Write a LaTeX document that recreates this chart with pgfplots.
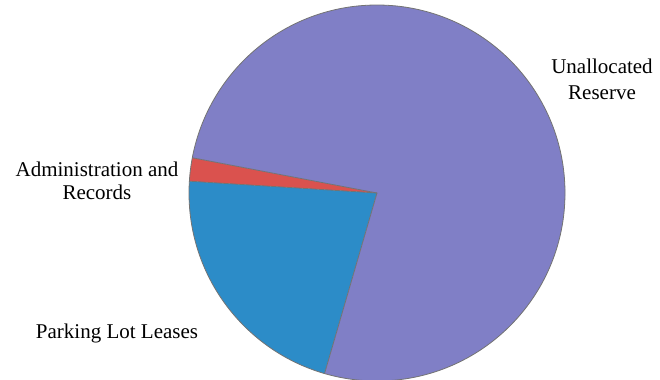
\documentclass[border=0pt]{standalone}
\usepackage{pgfplots}
\usepackage{pgfplotstable}
\pgfplotsset{compat=1.18}
\usepackage{fontspec}
\setmainfont{Liberation Serif}
\definecolor{cAdmin}{RGB}{218,82,78}
\definecolor{cPark}{RGB}{44,140,200}
\definecolor{cRes}{RGB}{128,127,198}
\pgfplotstableread{
label pct
Admin 2.0
Parking 21.5
Reserve 76.5
}\piedata
\begin{document}
\begin{tikzpicture}
\pgfplotstablegetelem{0}{pct}\of\piedata \let\pA\pgfplotsretval
\pgfplotstablegetelem{1}{pct}\of\piedata \let\pB\pgfplotsretval
\pgfplotstablegetelem{2}{pct}\of\piedata \let\pC\pgfplotsretval
\pgfmathsetmacro{\aA}{169.2}
\pgfmathsetmacro{\aB}{\aA+3.6*\pA}
\pgfmathsetmacro{\aC}{\aB+3.6*\pB}
\pgfmathsetmacro{\aD}{\aC+3.6*\pC}
\begin{axis}[
  scale only axis, width=330pt, height=190pt,
  xmin=0, xmax=660, ymin=0, ymax=380,
  hide axis, clip=true,
]
\path (axis cs:0,0) rectangle (axis cs:660,380);
\fill[cAdmin] (axis cs:377,187) -- ++(\aA:94pt) arc[start angle=\aA, end angle=\aB, radius=94pt] -- cycle;
\fill[cPark] (axis cs:377,187) -- ++(\aB:94pt) arc[start angle=\aB, end angle=\aC, radius=94pt] -- cycle;
\fill[cRes] (axis cs:377,187) -- ++(\aC:94pt) arc[start angle=\aC, end angle=\aD, radius=94pt] -- cycle;
\draw[black!55, line width=0.4pt] (axis cs:377,187) -- ++(\aA:94pt);
\draw[black!55, line width=0.4pt] (axis cs:377,187) -- ++(\aB:94pt);
\draw[black!55, line width=0.4pt] (axis cs:377,187) -- ++(\aC:94pt);
\draw[black!55, line width=0.4pt] (axis cs:377,187) circle[radius=94pt];
\node[align=center, font=\fontsize{10.5}{11.5}\selectfont, text=black] at (axis cs:97,199) {Administration and\\Records};
\node[align=center, font=\fontsize{10.5}{13}\selectfont, text=black] at (axis cs:602,301) {Unallocated\\Reserve};
\node[font=\fontsize{10.5}{12}\selectfont, text=black] at (axis cs:117,47) {Parking Lot Leases};
\end{axis}
\end{tikzpicture}
\end{document}
